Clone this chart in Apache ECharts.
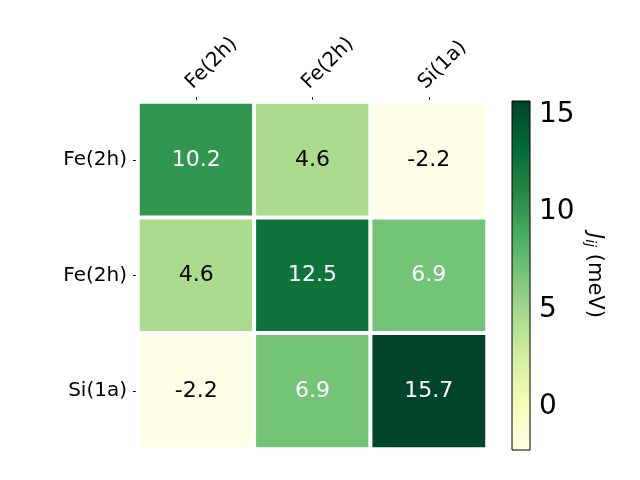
<!DOCTYPE html>
<html>
<head>
<meta charset="utf-8">
<script src="https://cdn.jsdelivr.net/npm/echarts@6/dist/echarts.min.js"></script>
<style>
  html, body { margin: 0; padding: 0; background: #fff; }
  #chart { width: 640px; height: 480px; }
</style>
</head>
<body>
<div id="chart"></div>
<script>
/* ─── data ─── */
const xLabels = ["Fe(2h)", "Fe(2h)", "Si(1a)"];
const yLabels = ["Fe(2h)", "Fe(2h)", "Si(1a)"];
// rows top -> bottom
const jRow0 = [10.2, 4.6, -2.2];
const jRow1 = [4.6, 12.5, 6.9];
const jRow2 = [-2.2, 6.9, 15.7];
const cbarTicks = [0, 5, 10, 15];

const vMin = -2.2;
const vMax = 15.7;

/* YlGn colormap */
const YLGN = [
  "#ffffe5", "#f7fcb9", "#d9f0a3", "#addd8e", "#78c679",
  "#41ab5d", "#238443", "#006837", "#004529",
];

const FONT = "DejaVu Sans, sans-serif";
const mid = (vMin + vMax) / 2;

const rows = [jRow0, jRow1, jRow2];
const cells = [];
rows.forEach((row, y) => {
  row.forEach((v, x) => {
    cells.push({
      value: [x, y, v],
      label: { color: v > mid ? "#ffffff" : "#000000" },
    });
  });
});

const chart = echarts.init(document.getElementById("chart"), null, { renderer: "canvas" });

chart.setOption({
  backgroundColor: "#ffffff",
  animation: false,
  textStyle: { fontFamily: FONT },
  grid: [
    { left: 138, top: 102, width: 349, height: 347 },
    { left: 512, top: 101, width: 18, height: 349 },
  ],
  xAxis: [
    {
      gridIndex: 0,
      type: "category",
      data: xLabels,
      position: "top",
      axisLine: { show: false },
      axisTick: { show: true, alignWithLabel: true, length: 5, lineStyle: { color: "#000" } },
      axisLabel: {
        rotate: -45,
        fontSize: 20,
        color: "#000",
        fontFamily: FONT,
        margin: 9,
        verticalAlign: "bottom",
      },
      splitLine: { show: false },
    },
    {
      gridIndex: 1,
      type: "value",
      min: 0,
      max: 1,
      show: false,
    },
  ],
  yAxis: [
    {
      gridIndex: 0,
      type: "category",
      data: yLabels,
      inverse: true,
      axisLine: { show: false },
      axisTick: { show: true, alignWithLabel: true, length: 5, lineStyle: { color: "#000" } },
      axisLabel: { fontSize: 20, color: "#000", fontFamily: FONT, margin: 11 },
      splitLine: { show: false },
    },
    {
      gridIndex: 1,
      type: "value",
      min: vMin,
      max: vMax,
      position: "right",
      axisLine: { show: false },
      axisTick: {
        show: true,
        length: 5,
        customValues: cbarTicks,
        lineStyle: { color: "#000" },
      },
      axisLabel: {
        fontSize: 28,
        color: "#000",
        fontFamily: FONT,
        margin: 9,
        customValues: cbarTicks,
      },
      splitLine: { show: false },
      name: "{j|J}{s|ij} (meV)",
      nameLocation: "middle",
      nameRotate: -90,
      nameGap: 53,
      nameTextStyle: {
        fontSize: 21,
        color: "#000",
        fontFamily: FONT,
        rich: {
          j: { fontSize: 21, fontStyle: "italic", fontFamily: FONT, color: "#000" },
          s: { fontSize: 14, fontStyle: "italic", fontFamily: FONT, color: "#000", verticalAlign: "bottom", padding: [8, 0, 0, 0] },
        },
      },
    },
  ],
  visualMap: {
    type: "continuous",
    show: false,
    min: vMin,
    max: vMax,
    seriesIndex: 0,
    dimension: 2,
    inRange: { color: YLGN },
  },
  series: [
    {
      type: "heatmap",
      xAxisIndex: 0,
      yAxisIndex: 0,
      data: cells,
      itemStyle: { borderColor: "#ffffff", borderWidth: 4 },
      label: {
        show: true,
        fontSize: 22,
        fontFamily: FONT,
        formatter: (p) => p.value[2].toFixed(1),
      },
      emphasis: { disabled: true },
    },
    {
      type: "line",
      xAxisIndex: 1,
      yAxisIndex: 1,
      data: [],
      silent: true,
      markArea: {
        silent: true,
        itemStyle: {
          color: {
            type: "linear",
            x: 0, y: 1, x2: 0, y2: 0,
            colorStops: YLGN.map((c, i) => ({ offset: i / (YLGN.length - 1), color: c })),
          },
          borderColor: "#000",
          borderWidth: 1,
        },
        data: [[{ yAxis: vMin }, { yAxis: vMax }]],
      },
    },
  ],
});
</script>
</body>
</html>
